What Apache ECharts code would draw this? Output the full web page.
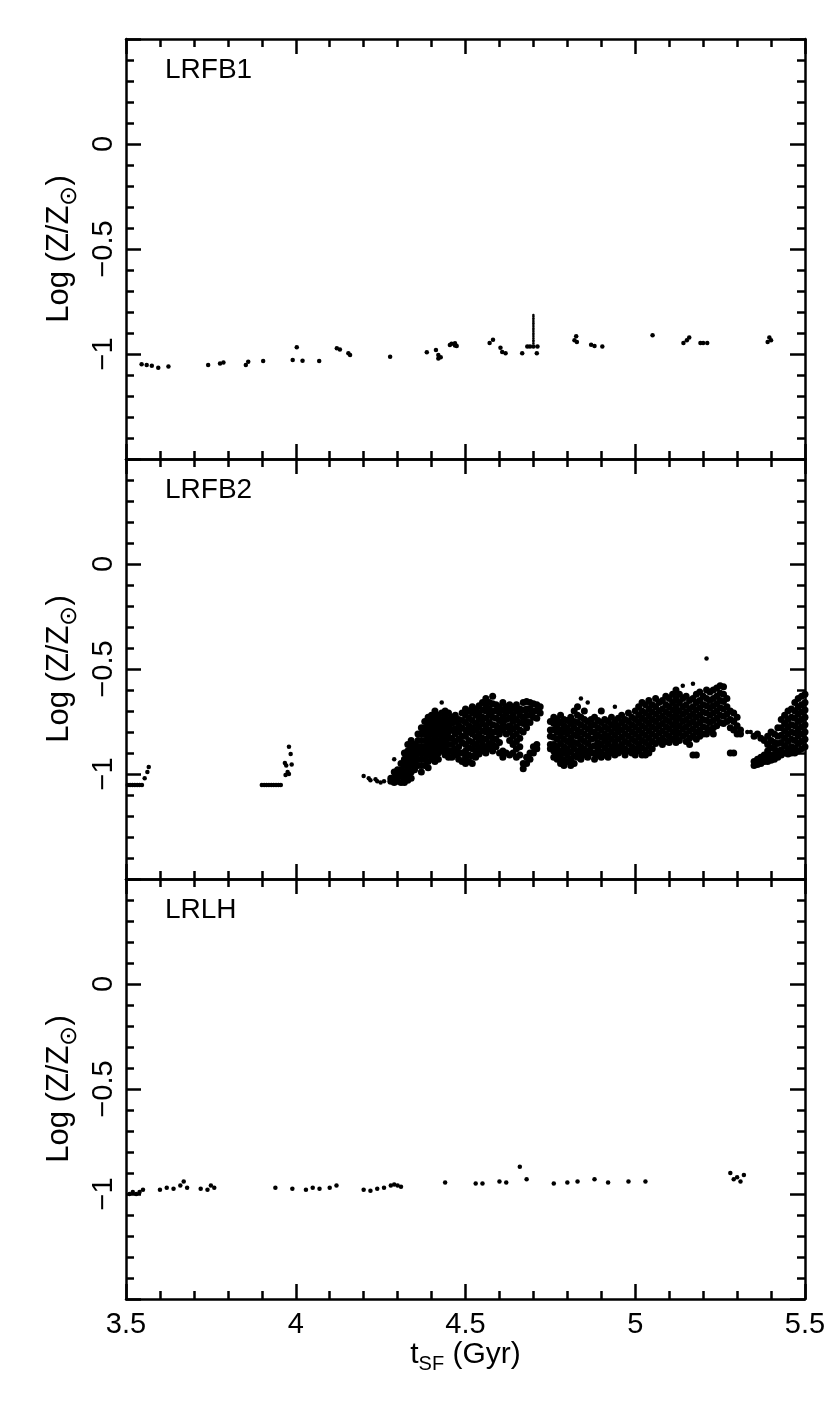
<!DOCTYPE html>
<html>
<head>
<meta charset="utf-8">
<script src="https://cdn.jsdelivr.net/npm/echarts@6/dist/echarts.min.js"></script>
<style>
html, body { margin: 0; padding: 0; background: #fff; }
#chart { width: 830px; height: 1409px; }
</style>
</head>
<body>
<div id="chart"></div>
<script>
// panel names and axis set-up
var panelNames = ['LRFB1', 'LRFB2', 'LRLH'];
var xTickLabels = {'3.5': '3.5', '4': '4', '4.5': '4.5', '5': '5', '5.5': '5.5'};
var yTickLabels = {'0': '0', '-0.5': '\u22120.5', '-1': '\u22121'};

// LRFB1 : [t_SF, log Z/Zsun]
var lrfb1 = [
    [3.546, -1.049], [3.561, -1.052], [3.576, -1.056], [3.595, -1.065], [3.625, -1.06],
    [3.742, -1.052], [3.777, -1.045], [3.787, -1.041], [3.853, -1.052], [3.86, -1.037], [3.904, -1.033],
    [3.991, -1.029], [4.003, -0.968], [4.02, -1.032], [4.069, -1.033],
    [4.121, -0.973], [4.13, -0.978], [4.155, -0.997], [4.16, -1.005],
    [4.278, -1.013],
    [4.386, -0.992], [4.413, -0.981], [4.42, -1.005], [4.427, -1.016], [4.42, -1.021],
    [4.454, -0.957], [4.459, -0.951], [4.469, -0.949], [4.469, -0.959], [4.474, -0.962],
    [4.571, -0.948], [4.581, -0.932], [4.603, -0.97], [4.608, -0.991], [4.618, -0.996],
    [4.667, -0.996], [4.682, -0.964], [4.69, -0.964], [4.70, -0.964], [4.712, -0.964], [4.71, -0.996],
    [4.821, -0.935], [4.826, -0.916], [4.828, -0.943],
    [4.87, -0.956], [4.88, -0.962], [4.903, -0.964],
    [5.051, -0.911],
    [5.142, -0.948], [5.152, -0.935], [5.159, -0.922], [5.192, -0.948], [5.20, -0.948], [5.212, -0.948],
    [5.39, -0.943], [5.395, -0.922], [5.40, -0.935]
];
// the thin spike in LRFB1
var lrfb1Spike = [
    [4.70, -0.814], [4.70, -0.822], [4.70, -0.83], [4.70, -0.838], [4.70, -0.846], [4.70, -0.854],
    [4.70, -0.862], [4.70, -0.87], [4.70, -0.878], [4.70, -0.886], [4.70, -0.894], [4.70, -0.902],
    [4.70, -0.91], [4.70, -0.918], [4.70, -0.926], [4.70, -0.934], [4.70, -0.942], [4.70, -0.95]
];

// LRFB2 : isolated bits and stray points
var lrfb2Sparse = [
    [3.505, -1.052], [3.512, -1.052], [3.519, -1.052], [3.526, -1.052], [3.533, -1.052], [3.54, -1.052], [3.547, -1.052],
    [3.555, -1.02], [3.563, -0.99], [3.567, -0.967],
    [3.90, -1.052], [3.907, -1.052], [3.914, -1.052], [3.921, -1.052], [3.928, -1.052], [3.935, -1.052],
    [3.942, -1.052], [3.949, -1.052], [3.956, -1.052],
    [3.98, -0.87], [3.985, -0.905], [3.968, -0.948], [3.972, -0.96], [3.976, -0.99], [3.98, -1.0],
    [3.988, -0.955], [3.97, -1.005],
    [4.20, -1.01], [4.215, -1.02], [4.22, -1.03], [4.235, -1.025], [4.24, -1.035], [4.25, -1.04], [4.26, -1.035],
    [4.29, -0.93], [4.43, -0.66], [4.84, -0.64], [4.86, -0.66], [4.94, -0.68],
    [5.14, -0.58], [5.17, -0.57], [5.21, -0.45], [5.33, -0.80], [5.34, -0.80]
];

// LRFB2 : dense cloud, one column per t_SF, first entry is t_SF, the rest are log Z
var lrfb2Columns = [
    [4.28, -1.02, -1.035],
    [4.29, -0.99, -1.02, -1.04],
    [4.30, -0.98, -1.01, -1.035],
    [4.31, -0.95, -0.98, -1.01, -1.04],
    [4.32, -0.90, -0.93, -0.96, -0.99, -1.02, -1.04],
    [4.33, -0.86, -0.89, -0.92, -0.95, -0.98, -1.01, -1.03],
    [4.34, -0.84, -0.87, -0.90, -0.93, -0.96, -0.99, -1.02],
    [4.35, -0.86, -0.89, -0.92, -0.95, -0.98],
    [4.36, -0.81, -0.84, -0.87, -0.90, -0.93, -0.96],
    [4.37, -0.78, -0.81, -0.84, -0.87, -0.90, -0.93, -0.96, -0.99],
    [4.38, -0.75, -0.78, -0.81, -0.84, -0.87, -0.90, -0.93, -0.96],
    [4.39, -0.73, -0.76, -0.79, -0.82, -0.85, -0.88, -0.91, -0.94, -0.97],
    [4.40, -0.72, -0.75, -0.78, -0.81, -0.84, -0.87, -0.90, -0.93],
    [4.41, -0.70, -0.73, -0.76, -0.79, -0.82, -0.85, -0.88, -0.91, -0.94],
    [4.42, -0.72, -0.75, -0.78, -0.81, -0.84, -0.87, -0.90, -0.93],
    [4.43, -0.71, -0.74, -0.77, -0.80, -0.83, -0.86, -0.89],
    [4.44, -0.70, -0.73, -0.76, -0.79, -0.82, -0.85, -0.88, -0.91],
    [4.45, -0.71, -0.74, -0.77, -0.80, -0.83, -0.86, -0.89, -0.92],
    [4.46, -0.73, -0.76, -0.79, -0.83, -0.86, -0.89, -0.92],
    [4.47, -0.72, -0.75, -0.785, -0.81, -0.845, -0.88, -0.91],
    [4.48, -0.74, -0.77, -0.80, -0.835, -0.87, -0.90, -0.93],
    [4.49, -0.71, -0.745, -0.78, -0.82, -0.85, -0.90, -0.94],
    [4.50, -0.69, -0.72, -0.755, -0.79, -0.82, -0.86, -0.89, -0.92, -0.95],
    [4.51, -0.70, -0.735, -0.77, -0.80, -0.84, -0.875, -0.91, -0.94],
    [4.52, -0.68, -0.71, -0.745, -0.78, -0.81, -0.85, -0.88, -0.915, -0.95],
    [4.53, -0.69, -0.72, -0.76, -0.79, -0.825, -0.86, -0.89, -0.92],
    [4.54, -0.675, -0.71, -0.74, -0.775, -0.81, -0.84, -0.875, -0.905],
    [4.55, -0.66, -0.695, -0.73, -0.76, -0.795, -0.83, -0.86, -0.89],
    [4.56, -0.64, -0.67, -0.70, -0.735, -0.77, -0.80, -0.835, -0.87, -0.90],
    [4.57, -0.66, -0.69, -0.72, -0.755, -0.79, -0.82, -0.855, -0.88],
    [4.58, -0.63, -0.665, -0.70, -0.73, -0.765, -0.80, -0.83, -0.86, -0.89],
    [4.59, -0.67, -0.70, -0.735, -0.77, -0.80, -0.835, -0.87],
    [4.60, -0.68, -0.71, -0.745, -0.78, -0.81, -0.85, -0.90],
    [4.61, -0.66, -0.695, -0.73, -0.76, -0.79, -0.89, -0.92],
    [4.62, -0.68, -0.71, -0.74, -0.775, -0.81, -0.90],
    [4.63, -0.67, -0.70, -0.735, -0.77, -0.80, -0.84, -0.91],
    [4.64, -0.685, -0.72, -0.75, -0.785, -0.82, -0.86, -0.90],
    [4.65, -0.67, -0.70, -0.74, -0.775, -0.81, -0.845, -0.88, -0.92],
    [4.66, -0.69, -0.72, -0.755, -0.79, -0.83, -0.87, -0.91],
    [4.67, -0.66, -0.695, -0.73, -0.76, -0.80, -0.95, -0.975],
    [4.68, -0.655, -0.69, -0.72, -0.75, -0.78, -0.92, -0.95],
    [4.69, -0.66, -0.69, -0.72, -0.755, -0.90, -0.93],
    [4.70, -0.665, -0.70, -0.73, -0.87, -0.90],
    [4.71, -0.67, -0.70, -0.735, -0.86, -0.88],
    [4.72, -0.68, -0.71],
    [4.75, -0.75, -0.79, -0.82, -0.86, -0.88],
    [4.76, -0.73, -0.76, -0.79, -0.825, -0.86, -0.89, -0.92],
    [4.77, -0.74, -0.77, -0.80, -0.835, -0.87, -0.90, -0.93],
    [4.78, -0.72, -0.755, -0.79, -0.82, -0.855, -0.89, -0.92, -0.95],
    [4.79, -0.74, -0.77, -0.80, -0.835, -0.87, -0.90, -0.935, -0.96],
    [4.80, -0.745, -0.78, -0.81, -0.845, -0.88, -0.91, -0.94],
    [4.81, -0.73, -0.76, -0.795, -0.83, -0.86, -0.895, -0.93, -0.96],
    [4.82, -0.70, -0.75, -0.78, -0.815, -0.85, -0.88, -0.915, -0.95],
    [4.83, -0.68, -0.72, -0.755, -0.79, -0.82, -0.855, -0.89, -0.92],
    [4.84, -0.73, -0.765, -0.80, -0.835, -0.87, -0.90, -0.93],
    [4.85, -0.70, -0.74, -0.775, -0.81, -0.845, -0.88, -0.91],
    [4.86, -0.75, -0.785, -0.82, -0.855, -0.89, -0.92],
    [4.87, -0.74, -0.77, -0.80, -0.835, -0.87, -0.90],
    [4.88, -0.73, -0.765, -0.80, -0.83, -0.865, -0.90, -0.93],
    [4.89, -0.745, -0.78, -0.815, -0.85, -0.88, -0.91],
    [4.90, -0.70, -0.755, -0.79, -0.825, -0.86, -0.895, -0.92],
    [4.91, -0.74, -0.775, -0.81, -0.84, -0.875, -0.91],
    [4.92, -0.75, -0.785, -0.82, -0.855, -0.89, -0.92],
    [4.93, -0.73, -0.765, -0.80, -0.835, -0.87, -0.90],
    [4.94, -0.75, -0.78, -0.815, -0.85, -0.88, -0.91],
    [4.95, -0.735, -0.77, -0.80, -0.835, -0.87, -0.90],
    [4.96, -0.72, -0.755, -0.79, -0.825, -0.86, -0.89],
    [4.97, -0.74, -0.775, -0.81, -0.845, -0.88, -0.91],
    [4.98, -0.71, -0.75, -0.785, -0.82, -0.855, -0.89],
    [4.99, -0.73, -0.765, -0.80, -0.835, -0.87, -0.90],
    [5.00, -0.70, -0.74, -0.775, -0.81, -0.845, -0.88, -0.91],
    [5.01, -0.68, -0.72, -0.755, -0.79, -0.825, -0.86, -0.89],
    [5.02, -0.66, -0.70, -0.735, -0.77, -0.805, -0.84, -0.875, -0.91],
    [5.03, -0.67, -0.71, -0.745, -0.78, -0.815, -0.85, -0.885, -0.91],
    [5.04, -0.65, -0.69, -0.725, -0.76, -0.795, -0.83, -0.865, -0.90],
    [5.05, -0.67, -0.705, -0.74, -0.775, -0.81, -0.845, -0.88],
    [5.06, -0.64, -0.68, -0.715, -0.75, -0.785, -0.82, -0.855],
    [5.07, -0.66, -0.70, -0.735, -0.77, -0.805, -0.84],
    [5.08, -0.65, -0.69, -0.725, -0.76, -0.795, -0.83, -0.86],
    [5.09, -0.63, -0.67, -0.705, -0.74, -0.775, -0.81, -0.845],
    [5.10, -0.64, -0.68, -0.715, -0.75, -0.785, -0.82, -0.85],
    [5.11, -0.62, -0.66, -0.695, -0.73, -0.765, -0.80, -0.835],
    [5.12, -0.60, -0.64, -0.68, -0.715, -0.75, -0.785, -0.82, -0.85],
    [5.13, -0.62, -0.66, -0.70, -0.735, -0.77, -0.805, -0.84],
    [5.14, -0.64, -0.68, -0.715, -0.75, -0.785, -0.82],
    [5.15, -0.63, -0.67, -0.705, -0.74, -0.775, -0.81, -0.845],
    [5.16, -0.65, -0.69, -0.725, -0.76, -0.795, -0.83, -0.86],
    [5.17, -0.64, -0.68, -0.715, -0.75, -0.785, -0.82, -0.91],
    [5.18, -0.62, -0.66, -0.695, -0.73, -0.765, -0.80, -0.835, -0.91],
    [5.19, -0.61, -0.65, -0.685, -0.72, -0.755, -0.79, -0.82],
    [5.20, -0.63, -0.67, -0.705, -0.74, -0.775, -0.81],
    [5.21, -0.60, -0.64, -0.675, -0.71, -0.745, -0.78, -0.81],
    [5.22, -0.61, -0.65, -0.685, -0.72, -0.755, -0.79],
    [5.23, -0.60, -0.64, -0.675, -0.71, -0.745, -0.78, -0.81],
    [5.24, -0.59, -0.63, -0.665, -0.70, -0.735, -0.77],
    [5.25, -0.58, -0.615, -0.65, -0.685, -0.72, -0.755],
    [5.26, -0.585, -0.62, -0.655, -0.69, -0.725, -0.76],
    [5.27, -0.64, -0.68, -0.715, -0.75],
    [5.28, -0.70, -0.74, -0.78, -0.90],
    [5.29, -0.71, -0.75, -0.79, -0.90],
    [5.30, -0.73, -0.77, -0.81],
    [5.31, -0.79, -0.81],
    [5.35, -0.82, -0.94, -0.96],
    [5.36, -0.81, -0.93, -0.955],
    [5.37, -0.83, -0.92, -0.95],
    [5.38, -0.84, -0.91, -0.94],
    [5.39, -0.82, -0.86, -0.89, -0.92, -0.94],
    [5.40, -0.80, -0.84, -0.875, -0.91, -0.935],
    [5.41, -0.81, -0.85, -0.88, -0.91, -0.93],
    [5.42, -0.78, -0.82, -0.855, -0.89, -0.92],
    [5.43, -0.74, -0.78, -0.815, -0.85, -0.885, -0.91],
    [5.44, -0.72, -0.76, -0.795, -0.83, -0.865, -0.90],
    [5.45, -0.70, -0.74, -0.775, -0.81, -0.845, -0.88, -0.905],
    [5.46, -0.69, -0.73, -0.765, -0.80, -0.835, -0.87, -0.90],
    [5.47, -0.66, -0.70, -0.735, -0.77, -0.805, -0.84, -0.875, -0.90],
    [5.48, -0.64, -0.68, -0.715, -0.75, -0.785, -0.82, -0.855, -0.89],
    [5.49, -0.63, -0.67, -0.705, -0.74, -0.775, -0.81, -0.845, -0.88],
    [5.50, -0.62, -0.66, -0.695, -0.73, -0.765, -0.80, -0.835, -0.87]
];

// LRLH
var lrlh = [
    [3.51, -1.0], [3.52, -0.99], [3.53, -1.0], [3.54, -0.99], [3.55, -0.98],
    [3.60, -0.98], [3.62, -0.97], [3.64, -0.975], [3.66, -0.96], [3.67, -0.94], [3.68, -0.97],
    [3.72, -0.975], [3.74, -0.98], [3.75, -0.96], [3.76, -0.97],
    [3.94, -0.97], [3.99, -0.975], [4.03, -0.98], [4.05, -0.97], [4.07, -0.975], [4.10, -0.97], [4.12, -0.96],
    [4.20, -0.98], [4.22, -0.985], [4.24, -0.975], [4.26, -0.97], [4.28, -0.96], [4.29, -0.955], [4.30, -0.96], [4.31, -0.965],
    [4.44, -0.945], [4.53, -0.95], [4.55, -0.95], [4.60, -0.94], [4.62, -0.945], [4.66, -0.87], [4.68, -0.93],
    [4.76, -0.95], [4.80, -0.945], [4.83, -0.94], [4.88, -0.93], [4.92, -0.945], [4.98, -0.94], [5.03, -0.94],
    [5.28, -0.90], [5.29, -0.93], [5.30, -0.92], [5.31, -0.94], [5.32, -0.91]
];

var lrfb2Cloud = [];
lrfb2Columns.forEach(function (col) {
    for (var k = 1; k < col.length; k++) {
        lrfb2Cloud.push([col[0], col[k]]);
    }
});

var FONT = '"Liberation Sans", Arial, Helvetica, sans-serif';
var gridTops = [39, 459, 879];
var gridHeight = 420;

function axisStyle() {
    return {
        axisLine: {show: true, onZero: false, lineStyle: {color: '#000', width: 2.5}},
        axisTick: {show: true, inside: true, length: 15, lineStyle: {color: '#000', width: 2.5}},
        minorTick: {show: true, splitNumber: 5, length: 8, lineStyle: {color: '#000', width: 2.5}},
        splitLine: {show: false},
        minorSplitLine: {show: false}
    };
}

function subRich(size, subSize, drop) {
    return {
        t: {fontSize: size, lineHeight: size, fontFamily: FONT, color: '#000', verticalAlign: 'top'},
        s: {fontSize: subSize, lineHeight: subSize, fontFamily: FONT, color: '#000', verticalAlign: 'top', padding: [drop, 0, 0, 0]}
    };
}

function makeXAxis(i, position, withLabels) {
    var ax = Object.assign({
        type: 'value',
        gridIndex: i,
        position: position,
        min: 3.5,
        max: 5.5,
        interval: 0.5,
        axisLabel: {
            show: withLabels,
            margin: 11,
            fontSize: 29,
            fontFamily: FONT,
            color: '#000',
            formatter: function (v) {
                return xTickLabels[String(v)] || '';
            }
        }
    }, axisStyle());
    if (withLabels) {
        ax.name = '{t|t}{s|SF}{t| (Gyr)}';
        ax.nameLocation = 'middle';
        ax.nameGap = 40;
        ax.nameTextStyle = {color: '#000', rich: subRich(30, 20, 15)};
    }
    return ax;
}

function makeYAxis(i, position, withLabels) {
    var ax = Object.assign({
        type: 'value',
        gridIndex: i,
        position: position,
        min: -1.5,
        max: 0.5,
        interval: 0.5,
        axisLabel: {
            show: withLabels,
            rotate: 90,
            margin: 8,
            fontSize: 29,
            fontFamily: FONT,
            color: '#000',
            formatter: function (v) {
                return yTickLabels[String(v)] || '';
            }
        }
    }, axisStyle());
    if (withLabels) {
        ax.name = '{t|Log (Z/Z}{s|\u2299}{t|)}';
        ax.nameLocation = 'middle';
        ax.nameRotate = 90;
        ax.nameGap = 44;
        ax.nameTextStyle = {color: '#000', rich: subRich(31, 24, 13)};
    }
    return ax;
}

function dots(i, data, size) {
    return {
        type: 'scatter',
        xAxisIndex: i * 2,
        yAxisIndex: i * 2,
        data: data,
        symbol: 'circle',
        symbolSize: size,
        itemStyle: {color: '#000', opacity: 1},
        silent: true,
        animation: false
    };
}

var grids = [], xAxes = [], yAxes = [], titles = [];
for (var i = 0; i < 3; i++) {
    grids.push({left: 126, right: 25, top: gridTops[i], height: gridHeight});
    xAxes.push(makeXAxis(i, 'bottom', i === 2));
    xAxes.push(makeXAxis(i, 'top', false));
    yAxes.push(makeYAxis(i, 'left', true));
    yAxes.push(makeYAxis(i, 'right', false));
    titles.push({
        text: panelNames[i],
        left: 160,
        top: gridTops[i] + 12,
        textStyle: {fontSize: 28, fontWeight: 'normal', fontFamily: FONT, color: '#000'}
    });
}

var series = [
    dots(0, lrfb1, 4.5),
    dots(0, lrfb1Spike, 2.5),
    dots(1, lrfb2Sparse, 4.5),
    dots(1, lrfb2Cloud, 7),
    dots(2, lrlh, 4.5)
];

var myChart = echarts.init(document.getElementById('chart'), null, {renderer: 'canvas'});
var option = {
    backgroundColor: '#fff',
    animation: false,
    title: titles,
    grid: grids,
    xAxis: xAxes,
    yAxis: yAxes,
    series: series
};
myChart.setOption(option, true);
</script>
</body>
</html>
